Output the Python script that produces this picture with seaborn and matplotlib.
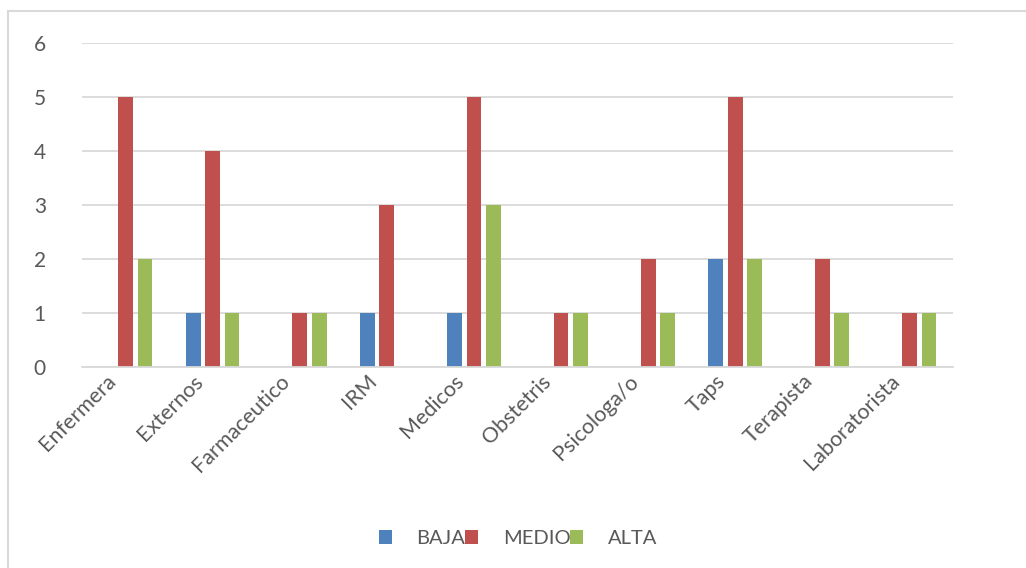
import numpy as np
import pandas as pd
import seaborn as sns
import matplotlib.pyplot as plt
import matplotlib.transforms as mtransforms
from matplotlib.lines import Line2D
from matplotlib.patches import Patch

categories = ['Enfermera', 'Externos', 'Farmaceutico', 'IRM', 'Medicos',
              'Obstetris', 'Psicologa/o', 'Taps', 'Terapista', 'Laboratorista']
baja = [0, 1, 0, 1, 1, 0, 0, 2, 0, 0]
medio = [5, 4, 1, 3, 5, 1, 2, 5, 2, 1]
alta = [2, 1, 1, 0, 3, 1, 1, 2, 1, 1]
levels = ['BAJA', 'MEDIO', 'ALTA']
colors = ['#4F81BD', '#C0504D', '#9BBB59']

df = pd.DataFrame({'Cargo': categories, 'BAJA': baja, 'MEDIO': medio, 'ALTA': alta})
long = df.melt(id_vars='Cargo', var_name='Nivel', value_name='Valor')

sns.set_style("white")
plt.rcParams['font.family'] = ['Lato', 'DejaVu Sans']

fig = plt.figure(figsize=(10.26, 5.68), dpi=100)
ax = fig.add_axes([0.0799, 0.3539, 0.849, 0.5704])

sns.barplot(data=long, x='Cargo', y='Valor', hue='Nivel', order=categories,
            hue_order=levels, palette=colors, width=0.67, gap=0.24,
            saturation=1, linewidth=0, ax=ax, legend=False)

ax.set_ylim(0, 6)
ax.set_xlim(-0.5, len(categories) - 0.5)
ax.set_yticks(range(0, 7))
ax.yaxis.grid(True, color='#D9D9D9', linewidth=1.3)
ax.set_axisbelow(True)
for s in ['top', 'right', 'left']:
    ax.spines[s].set_visible(False)
ax.spines['bottom'].set_color('#D9D9D9')
ax.spines['bottom'].set_linewidth(1.3)
ax.set_xlabel('')
ax.set_ylabel('')
ax.tick_params(axis='y', length=0, pad=26, labelsize=15, labelcolor='#595959')
ax.tick_params(axis='x', length=0, pad=3, labelsize=15.5, labelcolor='#595959')
shift = mtransforms.ScaledTranslation(-20 / 100, 0, fig.dpi_scale_trans)
for lab in ax.get_xticklabels():
    lab.set_rotation(45)
    lab.set_ha('right')
    lab.set_va('top')
    lab.set_rotation_mode('anchor')
    lab.set_transform(lab.get_transform() + shift)

handles = [Patch(facecolor=c, edgecolor='none') for c in colors]
fig.legend(handles, levels, loc='center', bbox_to_anchor=(0.505, 0.052), ncol=3,
           frameon=False, handlelength=0.65, handleheight=0.65,
           handletextpad=1.2, columnspacing=0.0, fontsize=14.5,
           labelcolor='#595959')

# outer chart frame (top and left edges visible)
fig.add_artist(Line2D([8 / 1026, 1.0], [1 - 11 / 568] * 2, color='#D9D9D9', lw=1.5))
fig.add_artist(Line2D([8 / 1026] * 2, [0, 1 - 11 / 568], color='#D9D9D9', lw=1.5))

fig.savefig('out.png', dpi=100)
